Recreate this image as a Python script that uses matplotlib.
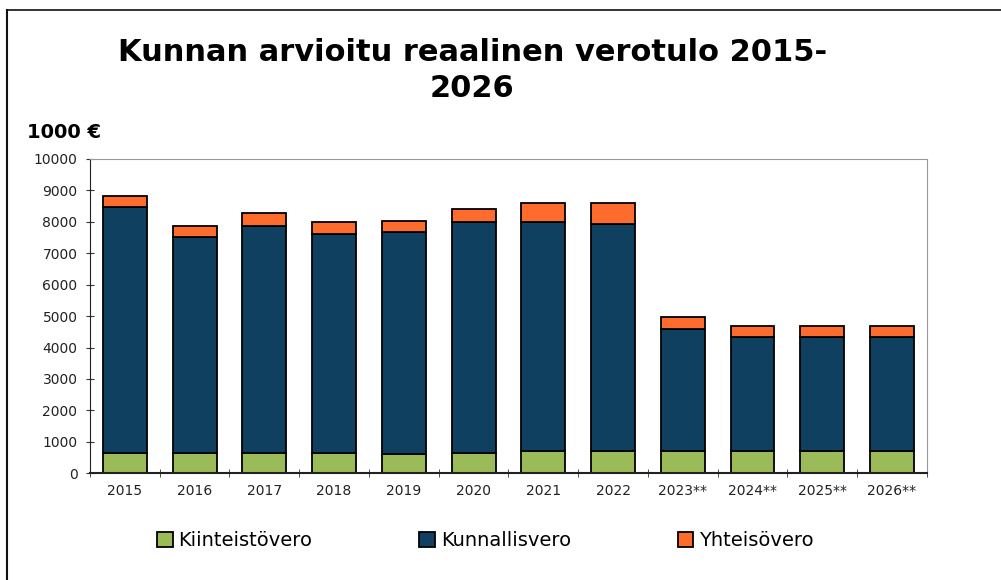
import numpy as np
import matplotlib.pyplot as plt
from matplotlib.lines import Line2D

years = ["2015", "2016", "2017", "2018", "2019", "2020", "2021", "2022",
         "2023**", "2024**", "2025**", "2026**"]
kiinteisto = [640, 660, 660, 660, 615, 660, 720, 720, 720, 720, 700, 700]
kunnallis = [7820, 6845, 7195, 6940, 7060, 7340, 7280, 7210, 3870, 3615, 3635, 3635]
yhteiso = [350, 350, 435, 385, 360, 405, 605, 660, 380, 340, 360, 340]

green = "#9bbb59"
navy = "#10405f"
orange = "#fd6c2c"

fig = plt.figure(figsize=(10.01, 5.80), dpi=100)
ax = fig.add_axes([0.0899, 0.184, 0.836, 0.542])

x = np.arange(len(years))
w = 0.63
k = np.array(kiinteisto)
ku = np.array(kunnallis)
y = np.array(yhteiso)
ax.bar(x, k, w, color=green, edgecolor="black", linewidth=1.3, label="Kiinteistövero")
ax.bar(x, ku, w, bottom=k, color=navy, edgecolor="black", linewidth=1.3, label="Kunnallisvero")
ax.bar(x, y, w, bottom=k + ku, color=orange, edgecolor="black", linewidth=1.3, label="Yhteisövero")

ax.set_xlim(-0.5, len(years) - 0.5)
ax.set_ylim(0, 10000)
ax.set_yticks(range(0, 10001, 1000))
ax.set_yticklabels([str(v) for v in range(0, 10001, 1000)], fontsize=10, color="#222222")
ax.set_xticks(x)
ax.set_xticklabels(years, fontsize=10, color="#222222")
ax.tick_params(axis="x", length=0, pad=8)
ax.set_xticks(np.arange(-0.5, len(years), 1), minor=True)
ax.tick_params(axis="x", which="minor", length=6, direction="inout", color="#333333")
ax.tick_params(axis="y", length=6, direction="inout", color="#333333", pad=6)

ax.spines["top"].set_color("#999999")
ax.spines["right"].set_color("#999999")
ax.spines["left"].set_color("#222222")
ax.spines["bottom"].set_color("#222222")
ax.spines["bottom"].set_linewidth(1.5)

fig.text(0.472, 0.91, "Kunnan arvioitu reaalinen verotulo 2015-", ha="center", va="center",
         fontsize=22, fontweight="bold")
fig.text(0.472, 0.848, "2026", ha="center", va="center", fontsize=22, fontweight="bold")
fig.text(0.027, 0.771, "1000 €", ha="left", va="center", fontsize=14, fontweight="bold")

fig.legend(loc="center", bbox_to_anchor=(0.485, 0.068), ncol=3, frameon=False,
           fontsize=14, handlelength=0.8, handleheight=0.8, handletextpad=0.3,
           columnspacing=5.5)

fig.add_artist(Line2D([0.007, 1.0], [0.983, 0.983], transform=fig.transFigure, color="#222222", lw=1.3))
fig.add_artist(Line2D([0.007, 0.007], [0.0, 0.983], transform=fig.transFigure, color="#111111", lw=1.5))

fig.savefig("out.png", dpi=100)
